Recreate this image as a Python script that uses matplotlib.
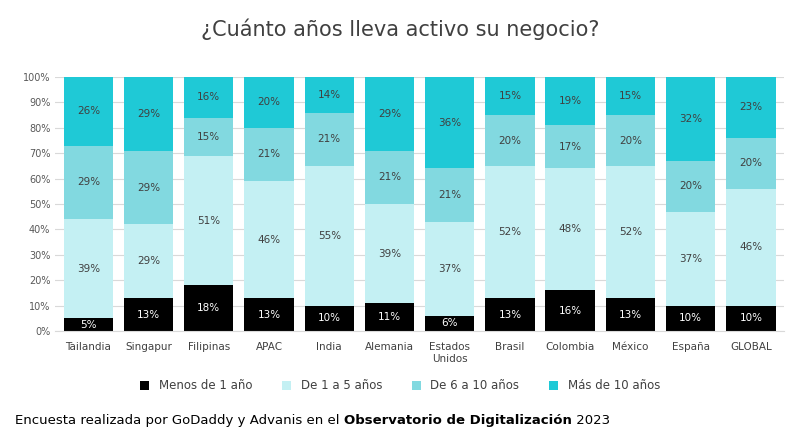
import numpy as np
import matplotlib.pyplot as plt
from matplotlib.ticker import PercentFormatter

paises = ['Tailandia', 'Singapur', 'Filipinas', 'APAC', 'India', 'Alemania',
          'Estados\nUnidos', 'Brasil', 'Colombia', 'México', 'España', 'GLOBAL']
menos_1 = [5, 13, 18, 13, 10, 11, 6, 13, 16, 13, 10, 10]
de_1_5 = [39, 29, 51, 46, 55, 39, 37, 52, 48, 52, 37, 46]
de_6_10 = [29, 29, 15, 21, 21, 21, 21, 20, 17, 20, 20, 20]
mas_10 = [26, 29, 16, 20, 14, 29, 36, 15, 19, 15, 32, 23]
series = ['Menos de 1 año', 'De 1 a 5 años', 'De 6 a 10 años', 'Más de 10 años']
colores = ['#000000', '#c4f0f3', '#82d9e0', '#1fc9d6']
txt_col = ['white', '#404040', '#404040', '#404040']

fig = plt.figure(figsize=(8, 4.45), dpi=100)
ax = fig.add_axes([0.069, 0.256, 0.911, 0.571])
x = np.arange(len(paises))
base = np.zeros(len(paises))
todas = [menos_1, de_1_5, de_6_10, mas_10]
for i, (vals, lab, c, tc) in enumerate(zip(todas, series, colores, txt_col)):
    v = np.array(vals, dtype=float)
    # the top segment is stretched to 100% as in the original chart
    h = 100 - base if i == len(todas) - 1 else v
    ax.bar(x, h, 0.82, bottom=base, color=c, label=lab, zorder=2)
    for xi, b, hi, vi in zip(x, base, h, v):
        ax.text(xi, b + hi / 2, f'{int(vi)}%', ha='center', va='center',
                fontsize=7.5, color=tc, zorder=3)
    base += h

ax.set_ylim(0, 100)
ax.set_xlim(-0.55, len(paises) - 0.45)
ax.set_yticks(range(0, 101, 10))
ax.yaxis.set_major_formatter(PercentFormatter(decimals=0))
ax.set_xticks(x)
ax.set_xticklabels(paises, fontsize=7.5, color='#404040')
ax.tick_params(axis='y', labelsize=7, colors='#595959', length=0)
ax.tick_params(axis='x', length=0, pad=8)
ax.grid(axis='y', color='#d9d9d9', linewidth=0.8, zorder=0)
for s in ax.spines.values():
    s.set_visible(False)
ax.spines['bottom'].set_visible(True)
ax.spines['bottom'].set_color('#d9d9d9')

fig.text(0.5, 0.935, '¿Cuánto años lleva activo su negocio?', ha='center', va='center',
         fontsize=15, color='#404040')
fig.legend(loc='center', bbox_to_anchor=(0.5, 0.133), ncol=4, frameon=False,
           fontsize=8.5, handlelength=0.8, handleheight=0.8, columnspacing=2.5,
           labelcolor='#404040')

# footnote: normal / bold / normal pieces chained one after the other
t1 = fig.text(0.019, 0.055, 'Encuesta realizada por GoDaddy y Advanis en el ',
              fontsize=9.5, va='center')
t2 = ax.annotate('Observatorio de Digitalización', xy=(1, 0.5), xycoords=t1,
                 va='center', fontsize=9.5, fontweight='bold', annotation_clip=False)
ax.annotate(' 2023', xy=(1, 0.5), xycoords=t2, va='center', fontsize=9.5,
            annotation_clip=False)

fig.savefig('out.png')
